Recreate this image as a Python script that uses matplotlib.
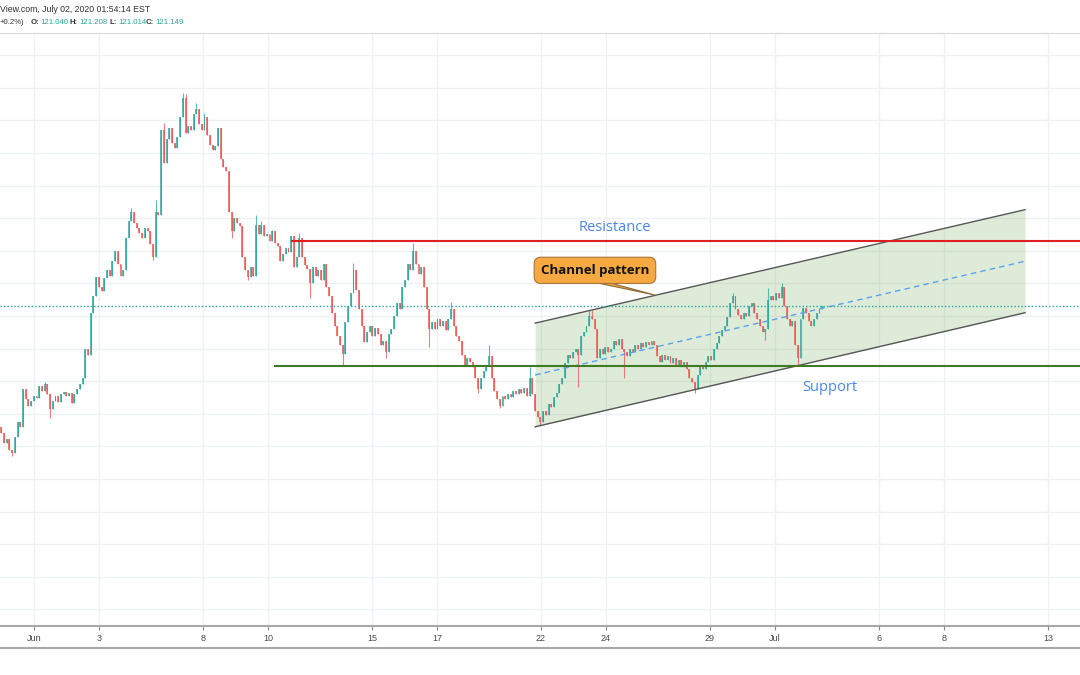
import numpy as np
import matplotlib.pyplot as plt
from matplotlib.patches import Polygon
from matplotlib.lines import Line2D

# EUR/JPY, 2-hour candles (open = previous close)
first_open = 119.30
closes = [
    119.20, 119.05, 119.12, 118.95, 118.90, 119.15, 119.38, 119.30, 119.88, 119.72, 119.62, 119.70,
    119.78, 119.74, 119.92, 119.85, 119.95, 119.80, 119.58, 119.70, 119.78, 119.68, 119.80, 119.84,
    119.78, 119.82, 119.66, 119.80, 119.88, 119.95, 120.05, 120.50, 120.40, 121.05, 121.30, 121.60,
    121.45, 121.38, 121.58, 121.70, 121.62, 121.85, 122.00, 121.80, 121.62, 121.70, 122.20, 122.45,
    122.60, 122.42, 122.35, 122.28, 122.20, 122.35, 122.30, 122.10, 121.90, 122.60, 122.55, 123.85,
    123.35, 123.72, 123.88, 123.66, 123.58, 123.75, 124.05, 124.35, 123.80, 123.92, 123.85, 124.10,
    124.18, 123.95, 123.85, 124.05, 123.78, 123.62, 123.55, 123.60, 123.88, 123.40, 123.28, 123.22,
    122.60, 122.30, 122.50, 122.42, 122.38, 121.90, 121.70, 121.60, 121.75, 121.62, 122.40, 122.25,
    122.40, 122.22, 122.25, 122.15, 122.30, 122.12, 122.08, 121.85, 121.95, 122.05, 121.98, 122.22,
    121.75, 121.90, 122.20, 121.90, 121.78, 121.72, 121.50, 121.75, 121.62, 121.70, 121.55, 121.80,
    121.45, 121.30, 121.05, 120.85, 120.70, 120.55, 120.42, 120.90, 121.15, 121.35, 121.70, 121.40,
    121.10, 120.85, 120.60, 120.75, 120.85, 120.70, 120.82, 120.72, 120.55, 120.62, 120.45, 120.72,
    120.80, 121.00, 121.20, 121.10, 121.45, 121.55, 121.80, 121.70, 122.00, 121.80, 121.65, 121.75,
    121.45, 121.10, 120.80, 120.90, 120.80, 120.95, 120.85, 120.92, 120.78, 120.95, 121.10, 120.85,
    120.70, 120.62, 120.40, 120.25, 120.35, 120.30, 120.22, 120.05, 119.88, 120.05, 120.15, 120.25,
    120.38, 120.05, 119.85, 119.72, 119.62, 119.78, 119.72, 119.80, 119.75, 119.85, 119.80, 119.88,
    119.82, 119.90, 119.78, 120.05, 119.80, 119.55, 119.45, 119.38, 119.55, 119.48, 119.65, 119.60,
    119.75, 119.82, 119.95, 120.05, 120.28, 120.40, 120.35, 120.45, 120.50, 120.40, 120.70, 120.75,
    120.85, 121.00, 120.95, 120.80, 120.35, 120.50, 120.42, 120.52, 120.45, 120.50, 120.62, 120.55,
    120.65, 120.50, 120.45, 120.38, 120.50, 120.45, 120.55, 120.50, 120.58, 120.52, 120.60, 120.55,
    120.62, 120.55, 120.38, 120.30, 120.40, 120.32, 120.38, 120.28, 120.35, 120.25, 120.32, 120.22,
    120.30, 120.18, 120.05, 119.98, 119.88, 120.10, 120.25, 120.18, 120.30, 120.38, 120.32, 120.50,
    120.58, 120.70, 120.78, 120.85, 120.98, 121.20, 121.30, 121.10, 121.02, 120.95, 121.05, 121.00,
    121.15, 121.20, 121.05, 120.95, 120.85, 120.75, 120.80, 121.25, 121.30, 121.25, 121.35, 121.28,
    121.45, 121.15, 120.95, 120.85, 120.92, 120.55, 120.35, 120.95, 121.12, 121.05, 120.92, 120.85,
    120.95, 121.05, 121.10, 121.149,
]
# visible wicks beyond the bodies (bar index -> price)
wick_high = {16: 119.99, 48: 122.65, 57: 122.78, 60: 123.96, 67: 124.42, 68: 124.40, 72: 124.27,
             75: 124.12, 94: 122.55, 96: 122.45, 100: 122.32, 110: 122.28, 130: 121.81, 152: 122.12,
             166: 121.21, 180: 120.55, 195: 120.22, 217: 121.09, 218: 121.09, 270: 121.35,
             283: 121.43, 288: 121.51}
wick_low = {4: 118.85, 18: 119.44, 56: 121.86, 85: 122.20, 91: 121.55, 114: 121.28, 126: 120.25,
            142: 120.36, 158: 120.52, 176: 119.82, 184: 119.59, 199: 119.33, 213: 119.91,
            230: 120.05, 256: 119.82, 282: 120.63, 294: 120.25}

start_day = -1.0          # first bar, in trading days from Jun 1
bars_per_day = 12

tick_days = [0, 2, 5.2, 7.2, 10.4, 12.4, 15.6, 17.6, 20.8, 22.8, 26.0, 28.0, 31.2]
tick_labels = ['Jun', '3', '8', '10', '15', '17', '22', '24', '29', 'Jul', '6', '8', '13']

resistance = 122.15
resistance_from = 7.94
support = 120.24
support_from = 7.42
channel_x = [15.42, 30.49]
channel_upper = [120.89, 122.63]
channel_lower = [119.30, 121.05]
last_price = 121.149

UP = '#26a69a'
DOWN = '#ef5350'

closes = np.array(closes)
opens = np.concatenate([[first_open], closes[:-1]])
n = len(closes)
x = start_day + np.arange(n) / bars_per_day
highs = np.maximum(opens, closes)
lows = np.minimum(opens, closes)
for i, v in wick_high.items():
    highs[i] = max(highs[i], v)
for i, v in wick_low.items():
    lows[i] = min(lows[i], v)
up = closes >= opens
colors = np.where(up, UP, DOWN)

fig = plt.figure(figsize=(10.8, 6.75), dpi=100)
ax = fig.add_axes([0, 49 / 675, 1, 593 / 675])

# grid
for p in np.arange(116.5, 125.01, 0.5):
    ax.axhline(p, color='#edf0f4', lw=1, zorder=0)
for d in tick_days:
    ax.axvline(d, color='#edf0f4', lw=1, zorder=0)

# channel
ax.fill_between(channel_x, channel_lower, channel_upper, color='#6aa84f', alpha=0.22, lw=0, zorder=1)
ax.plot(channel_x, channel_upper, color='#555555', lw=1, zorder=3)
ax.plot(channel_x, channel_lower, color='#555555', lw=1, zorder=3)
mid = [(a + b) / 2 for a, b in zip(channel_lower, channel_upper)]
ax.plot(channel_x, mid, color='#5aa2ee', lw=1, ls=(0, (4, 3)), zorder=3)

# candles
body = closes - opens
body = np.where(np.abs(body) < 0.01, 0.01, body)
ax.vlines(x, lows, highs, colors=colors, lw=0.8, alpha=0.75, zorder=2)
ax.bar(x, body, bottom=opens, width=0.06, color=colors, alpha=0.75, lw=0, zorder=2)

# horizontal levels
ax.plot([resistance_from, 40], [resistance] * 2, color='#e02020', lw=1.5, zorder=4)
ax.plot([support_from, 40], [support] * 2, color='#3f7a24', lw=1.5, zorder=4)
ax.axhline(last_price, color=UP, lw=1, ls=(0, (1, 1.5)), zorder=3)

# annotations
ax.text(17.88, 122.36, 'Resistance', color='#4a86e8', fontsize=10.5, ha='center', va='center',
        family='Open Sans', zorder=5)
ax.text(24.49, 119.91, 'Support', color='#4a86e8', fontsize=10.5, ha='center', va='center',
        family='Open Sans', zorder=5)
ax.add_patch(Polygon([[17.40, 121.50], [17.78, 121.50], [19.11, 121.32]], closed=True,
                     fc='#f7a941', ec='#8a6a3a', lw=0.8, zorder=5))
ax.text(17.26, 121.70, 'Channel pattern', color='#111111', fontsize=9.5, fontweight='bold',
        family='Open Sans', ha='center', va='center', zorder=6,
        bbox=dict(boxstyle='round,pad=0.5,rounding_size=0.5', fc='#f7a941', ec='#a8763a', lw=0.8))

ax.set_xlim(-1.04, 32.18)
ax.set_ylim(116.245, 125.34)
ax.set_yticks([])
ax.set_xticks(tick_days)
ax.set_xticklabels(tick_labels, fontsize=6.5, color='#4a4a4a', family='Liberation Sans')
ax.tick_params(axis='x', length=3, color='#888888', pad=3)
for s in ['left', 'right']:
    ax.spines[s].set_visible(False)
ax.spines['bottom'].set_color('#a8a8a8')
ax.spines['bottom'].set_linewidth(1.5)
ax.spines['top'].set_color('#d8d8d8')

fig.add_artist(Line2D([0, 1], [1 - 648 / 675] * 2, color='#a8a8a8', lw=1.5))

# header
def px(xp, yp):
    return xp / 1080, 1 - yp / 675

hdr = dict(fontsize=5.6, family='Liberation Sans', va='center')
fig.text(*px(0, 10), 'View.com, July 02, 2020 01:54:14 EST', color='#333333',
         fontsize=6.3, family='Liberation Sans', va='center')
fig.text(*px(0, 23), '+0.2%)', color='#333333', **hdr)
for xp, lab, val in [(31, 'O:', '121.040'), (70, 'H:', '121.208'), (109, 'L:', '121.014'), (146, 'C:', '121.149')]:
    fig.text(*px(xp, 23), lab, color='#333333', fontweight='bold', **hdr)
    fig.text(*px(xp + 9.5, 23), val, color=UP, **hdr)

fig.savefig('out.png', dpi=100)
